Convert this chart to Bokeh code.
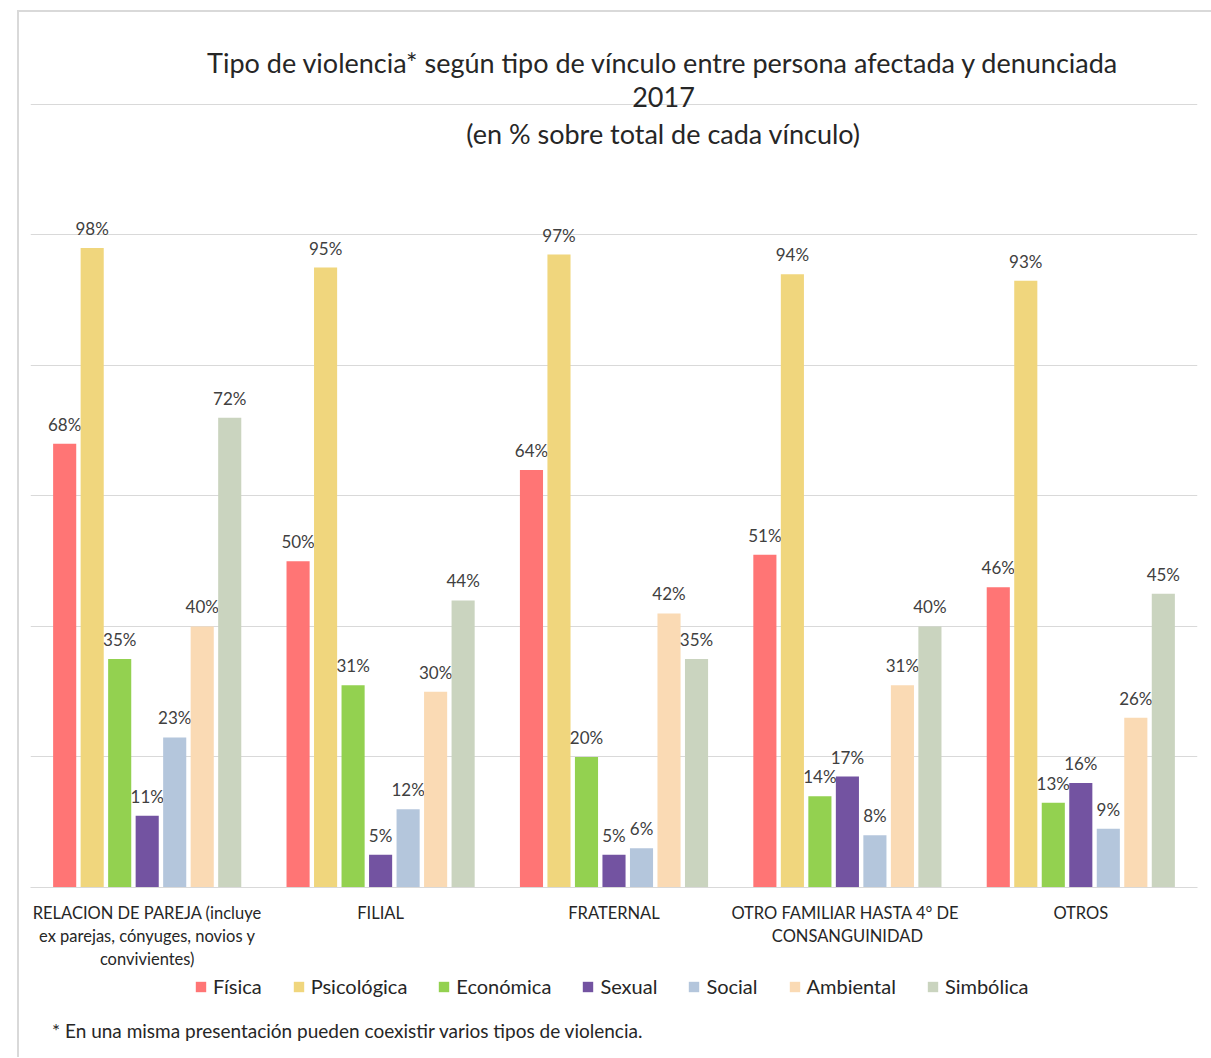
from bokeh.plotting import figure
from bokeh.layouts import column
from bokeh.models import (ColumnDataSource, FixedTicker, Legend, LegendItem, Label, Range1d)
from bokeh.core.properties import value
from bokeh.embed import file_html
from bokeh.resources import INLINE

# ---- data ----
categories = ["RELACION DE PAREJA (incluye\nex parejas, cónyuges, novios y\nconvivientes)",
              "FILIAL", "FRATERNAL",
              "OTRO FAMILIAR  HASTA 4° DE\nCONSANGUINIDAD", "OTROS"]
series_names = ["Física", "Psicológica", "Económica", "Sexual", "Social", "Ambiental", "Simbólica"]
fisica = [68, 50, 64, 51, 46]
psicologica = [98, 95, 97, 94, 93]
economica = [35, 31, 20, 14, 13]
sexual = [11, 5, 5, 17, 16]
social = [23, 12, 6, 8, 9]
ambiental = [40, 30, 42, 31, 26]
simbolica = [72, 44, 35, 40, 45]
series_values = [fisica, psicologica, economica, sexual, social, ambiental, simbolica]
colors = ["#FF7575", "#F0D67D", "#93D150", "#7353A1", "#B4C6DC", "#FADAB4", "#CAD4BF"]
footnote = "* En una misma presentación pueden coexistir varios tipos de violencia."
title_lines = ["Tipo de violencia* según tipo de vínculo entre persona afectada y denunciada",
               "2017", "(en % sobre total de cada vínculo)"]

FONT = "Lato"
TXT = "#404040"
DARK = "#262626"

p = figure(width=1192, height=959, output_backend="svg", toolbar_location=None,
           x_range=Range1d(0, 5), y_range=Range1d(0, 132.87),
           min_border_left=11, min_border_right=14, min_border_top=8, min_border_bottom=84)
p.outline_line_color = None
p.yaxis.visible = False
p.xgrid.visible = False
p.ygrid.ticker = FixedTicker(ticks=[0, 20, 40, 60, 80, 100, 120])
p.ygrid.grid_line_color = "#d9d9d9"
p.ygrid.grid_line_width = 1

xa = p.xaxis[0]
xa.ticker = FixedTicker(ticks=[i + 0.5 for i in range(len(categories))])
xa.major_label_overrides = {i + 0.5: c for i, c in enumerate(categories)}
xa.axis_line_color = "#d9d9d9"
xa.major_tick_line_color = None
xa.minor_tick_line_color = None
xa.major_label_text_font = FONT
xa.major_label_text_font_size = "16.5px"
xa.major_label_text_color = DARK
xa.major_label_standoff = 9
xa.major_label_text_line_height = 1.15

n = len(series_names)
step = 0.825 / n
width = step * 0.84
for j, (name, vals, col) in enumerate(zip(series_names, series_values, colors)):
    xs = [i + 0.5 + (j - (n - 1) / 2) * step for i in range(len(categories))]
    src = ColumnDataSource(dict(x=xs, top=vals, lab=[f"{v}%" for v in vals]))
    p.vbar(x="x", top="top", width=width, source=src, fill_color=col, line_color=None)
    p.text(x="x", y="top", text="lab", source=src, text_align="center", text_baseline="bottom",
           y_offset=-9, text_font=value(FONT), text_font_size="17px", text_color=TXT)

for txt, yy in zip(title_lines, [126.4, 121.1, 115.6]):
    p.add_layout(Label(x=2.712, y=yy, text=txt, text_align="center", text_baseline="middle",
                       text_font=FONT, text_font_size="27px", text_color=DARK))

# ---- legend + footnote strip ----
H2 = 86
p2 = figure(width=1192, height=H2, output_backend="svg", toolbar_location=None,
            x_range=Range1d(0, 1192), y_range=Range1d(0, H2),
            x_axis_type=None, y_axis_type=None,
            min_border_left=0, min_border_right=0, min_border_top=0, min_border_bottom=0)
p2.outline_line_color = None
p2.grid.visible = False
items = []
for name, col in zip(series_names, colors):
    # off-screen proxy renderer: only used to draw the legend swatch
    r = p2.vbar(x=[-1000], top=[0], width=1, fill_color=col, line_color=None)
    items.append(LegendItem(label=name, renderers=[r]))
legend = Legend(items=items, orientation="horizontal", location=(160, 55),
                label_text_font=FONT, label_text_font_size="20px", label_text_color=DARK,
                glyph_width=13, glyph_height=13, label_standoff=6, spacing=30,
                border_line_alpha=0, background_fill_alpha=0, padding=4, margin=0)
p2.add_layout(legend)
p2.add_layout(Label(x=22, y=27, text=footnote, text_align="left", text_baseline="middle",
                    text_font=FONT, text_font_size="19px", text_color=DARK))

layout = column(p, p2, spacing=0)
layout.styles = {"border-left": "2px solid #d9d9d9", "border-top": "2px solid #d9d9d9",
                 "margin-left": "17px", "margin-top": "10px"}

open("out.html", "w").write(file_html(layout, INLINE))
